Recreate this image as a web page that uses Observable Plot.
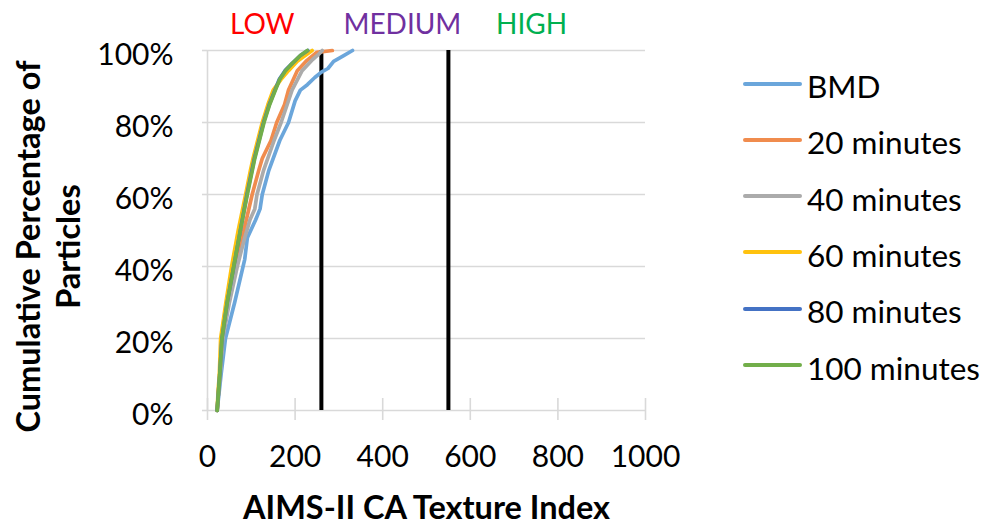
<!DOCTYPE html>
<html>
<head>
<meta charset="utf-8">
<script src="https://cdn.jsdelivr.net/npm/d3@7"></script>
<script src="https://cdn.jsdelivr.net/npm/@observablehq/plot@0.6"></script>
<style>
  body { margin: 0; background: #fff; font-family: Lato, "Open Sans", sans-serif; }
  #chart { position: relative; width: 985px; height: 525px; }
  .legend { position: absolute; left: 743px; top: 0; }
  .item { position: absolute; left: 0; height: 40px; display: flex; align-items: center; white-space: nowrap; font-size: 31.5px; color: #000; }
  .swatch { width: 59px; height: 4px; border-radius: 2px; margin-right: 5px; margin-top: -5px; }
</style>
</head>
<body>
<div id="chart"></div>
<script>
// Series shown in the chart, in drawing order (later ones sit on top)
const seriesNames = ["BMD", "20 minutes", "40 minutes", "60 minutes", "80 minutes", "100 minutes"];
const seriesColors = ["#6BA6DB", "#F08C4E", "#ABABAB", "#FFC20E", "#4472C4", "#72AE4A"];

// Cumulative distributions: texture index value and cumulative percentage of particles
const bmdIndex = [22, 31, 41, 62, 85, 91, 110, 120, 125, 140, 165, 185, 200, 212, 228, 245, 260, 275, 288, 310, 331];
const bmdPct   = [0, 10, 20, 30, 42, 48, 53, 56, 60, 66.7, 75, 80, 86, 89, 90.5, 92.5, 94, 95, 97, 98.5, 100];

const min20Index = [22, 28, 34, 48, 65, 83, 102, 117, 125, 145, 158, 176, 185, 205, 225, 250, 285];
const min20Pct   = [0, 10, 20, 30, 40, 50, 60, 66.7, 70, 75, 80, 85, 89, 94.4, 97, 99.5, 100];

const min40Index = [22, 29, 35, 50, 68, 85, 97, 108, 113, 128, 152, 168, 182, 193, 216, 240, 254, 262];
const min40Pct   = [0, 10, 20, 30, 40, 48, 53, 56, 60, 66.7, 75, 80, 85, 89, 94.4, 97.5, 99, 100];

const min60Index = [22, 24, 27, 30, 42, 55, 70, 87, 98, 104, 125, 138, 150, 168, 185, 205, 239];
const min60Pct   = [0, 5, 10, 20, 30, 40, 50, 60, 66.7, 70, 80, 85, 89, 92, 94.4, 97, 100];

const min80Index = [22, 25, 28, 33, 45, 60, 75, 90, 107, 128, 141, 154, 164, 177, 190, 212, 229];
const min80Pct   = [0, 5, 10, 20, 30, 40, 50, 60, 70, 80, 85, 89, 92, 94.4, 96, 98.6, 100];

const min100Index = [22, 25, 28, 33, 45, 60, 75, 91, 108, 129, 142, 155, 165, 174, 178, 190, 212, 228];
const min100Pct   = [0, 5, 10, 20, 30, 40, 50, 60, 70, 80, 85, 89, 92, 93.6, 94.4, 96, 98.6, 100];

const seriesIndex = [bmdIndex, min20Index, min40Index, min60Index, min80Index, min100Index];
const seriesPct = [bmdPct, min20Pct, min40Pct, min60Pct, min80Pct, min100Pct];

// Texture classes and their boundaries
const classNames = ["LOW", "MEDIUM", "HIGH"];
const classColors = ["#FF0000", "#7030A0", "#00B050"];
const classBounds = [260, 550];

// Axis ticks
const xTicks = [0, 200, 400, 600, 800, 1000];
const yTicks = [0, 20, 40, 60, 80, 100];

const gridColor = "#D9D9D9";
const font = "Lato, 'Open Sans', sans-serif";

// One line mark per series, built from the arrays above
const lineMarks = seriesNames.map((name, s) => {
  const rows = seriesIndex[s].map((x, i) => ({series: name, x, y: seriesPct[s][i]}));
  return Plot.line(rows, {x: "x", y: "y", stroke: seriesColors[s], strokeWidth: 3.7, strokeLinejoin: "round", strokeLinecap: "round"});
});

// Label anchors for the class names, in texture-index units
const classLabelAt = [125, 445, 740];

const chart = Plot.plot({
  width: 985,
  height: 525,
  marginLeft: 207,
  marginRight: 340,
  marginTop: 50,
  marginBottom: 115,
  style: {fontFamily: font, fontSize: "30px", color: "#000", background: "#fff"},
  x: {domain: [0, 1000]},
  y: {domain: [0, 100]},
  marks: [
    Plot.gridY(yTicks.filter(d => d > 0), {stroke: gridColor, strokeOpacity: 1, strokeWidth: 1.4}),
    // axis lines
    Plot.ruleY([0], {stroke: gridColor, strokeWidth: 1.6}),
    Plot.ruleX([0], {y1: 0, y2: 100, stroke: gridColor, strokeWidth: 1.6}),
    // x ticks crossing the axis
    Plot.ruleX(xTicks, {y1: 0, y2: 0, insetTop: -12, insetBottom: -10, stroke: gridColor, strokeWidth: 1.6}),
    // y ticks outside the axis
    Plot.ruleY(yTicks, {x1: 0, x2: 0, insetLeft: -5, stroke: gridColor, strokeWidth: 1.6}),
    Plot.axisX({ticks: xTicks, tickSize: 0, tickPadding: 35.5, tickFormat: d => String(d), label: null}),
    Plot.axisY({ticks: yTicks, tickSize: 0, tickPadding: 34, dy: 5, tickFormat: d => d + "%", label: null}),
    // class boundaries
    Plot.ruleX(classBounds, {y1: 0, y2: 100, stroke: "#000", strokeWidth: 4}),
    ...lineMarks,
    // class names above the plot
    ...classNames.map((c, i) => Plot.text([c], {x: () => classLabelAt[i], y: () => 100, text: d => d, dy: -17, lineAnchor: "bottom", fill: classColors[i], fontSize: 28})),
    // axis titles
    Plot.text(["AIMS-II CA Texture Index"], {text: d => d, frameAnchor: "bottom", dy: 108, lineAnchor: "bottom", fontWeight: "bold", fontSize: 32.5}),
    Plot.text(["Cumulative Percentage of\nParticles"], {text: d => d, frameAnchor: "left", dx: -160, dy: 16, rotate: -90, textAnchor: "middle", lineAnchor: "middle", fontWeight: "bold", fontSize: 32.5, lineHeight: 1.23})
  ]
});

const host = document.getElementById("chart");
host.appendChild(chart);

// Line legend to the right of the plot
const legend = document.createElement("div");
legend.className = "legend";
seriesNames.forEach((name, i) => {
  const item = document.createElement("div");
  item.className = "item";
  item.style.top = (66 + i * 56.3) + "px";
  const sw = document.createElement("span");
  sw.className = "swatch";
  sw.style.background = seriesColors[i];
  const label = document.createElement("span");
  label.textContent = name;
  item.appendChild(sw);
  item.appendChild(label);
  legend.appendChild(item);
});
host.appendChild(legend);
</script>
</body>
</html>
